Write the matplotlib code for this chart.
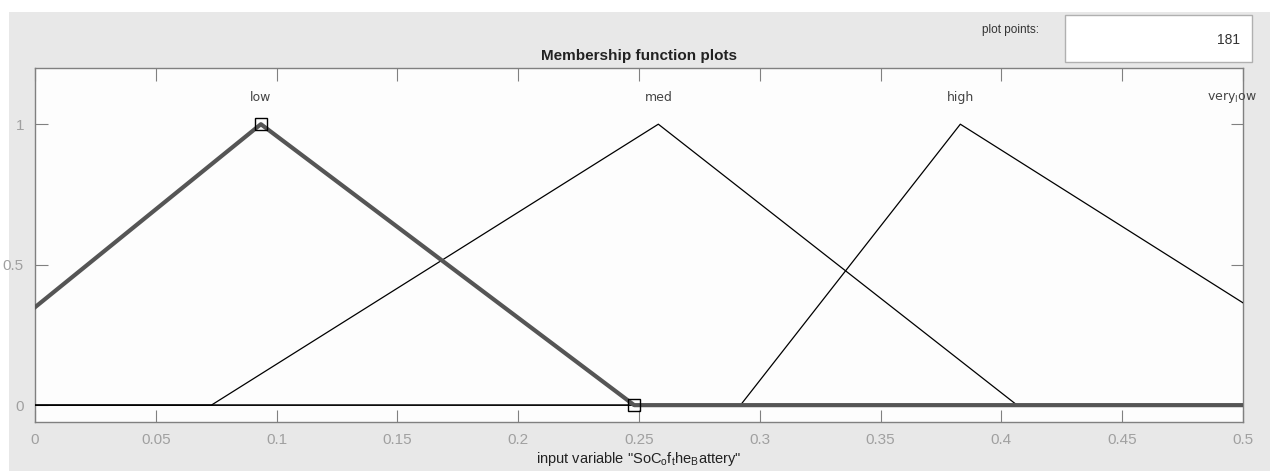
import matplotlib.pyplot as plt
from matplotlib.patches import Rectangle

# membership functions (trimf parameters a, b, c)
mf_names = ['low', 'med', 'high', 'very_low']
low_params = [-0.05, 0.0935, 0.248]
med_params = [0.073, 0.258, 0.4065]
high_params = [0.292, 0.383, 0.567]
very_low_params = [0.5, 0.6, 0.7]
label_x = [0.0935, 0.258, 0.383, 0.4955]

x_ticks = [0, 0.05, 0.1, 0.15, 0.2, 0.25, 0.3, 0.35, 0.4, 0.45, 0.5]
x_tick_labels = ['0', '0.05', '0.1', '0.15', '0.2', '0.25', '0.3', '0.35', '0.4', '0.45', '0.5']
y_ticks = [0, 0.5, 1]
y_tick_labels = ['0', '0.5', '1']
plot_points = 181

plt.rcParams['font.family'] = ['Liberation Sans', 'DejaVu Sans']

fig = plt.figure(figsize=(12.70, 4.71), dpi=100)
fig.patch.set_facecolor('white')
# gray panel behind the axes
fig.patches.append(Rectangle((9/1270, 0), 1 - 9/1270, 1 - 12/471, transform=fig.transFigure,
                             facecolor='#e8e8e8', edgecolor='none', zorder=-5))

ax = fig.add_axes([35/1270, 1 - 422/471, 1208/1270, 354/471])
ax.set_facecolor('#fdfdfd')
ax.set_xlim(0, 0.5)
ax.set_ylim(-0.06, 1.2)


def tri(p):
    a, b, c = p
    return [min(a, 0) - 1, a, b, c, 1.5], [0, 0, 1, 0, 0]


for name, p in zip(mf_names[1:], [med_params, high_params, very_low_params]):
    xs, ys = tri(p)
    ax.plot(xs, ys, color='black', lw=0.9, zorder=3)

# selected function drawn thick
xs, ys = tri(low_params)
ax.plot(xs, ys, color='#555555', lw=3, zorder=4, solid_capstyle='butt')
ax.plot([low_params[1], low_params[2]], [1, 0], ls='none', marker='s', ms=9,
        mfc='none', mec='black', mew=1, zorder=5, clip_on=False)

for name, lx in zip(mf_names, label_x):
    t = name
    if name == 'very_low':
        t = 'very$_{\\mathregular{l}}$ow'
    ax.text(lx, 1.095, t, ha='center', va='center', fontsize=9, color='#444444',
            family=['DejaVu Sans'], clip_on=False)

ax.set_xticks(x_ticks)
ax.set_xticklabels(x_tick_labels)
ax.set_yticks(y_ticks)
ax.set_yticklabels(y_tick_labels)
ax.tick_params(direction='in', length=9, width=0.8, color='#808080', labelcolor='#a0a0a0',
               labelsize=11, top=True, right=True, pad=8)
for s in ax.spines.values():
    s.set_color('#808080')
    s.set_linewidth(1)

ax.set_xlabel('input variable "SoC$_{\\mathregular{o}}$f$_{\\mathregular{t}}$he$_{\\mathregular{B}}$attery"',
              fontsize=10.5, color='#222222', labelpad=2)
ax.set_title('Membership function plots', fontsize=11, fontweight='bold', color='#222222', pad=6)

fig.text(1010/1270, 1 - 30/471, 'plot points:', fontsize=8.5, color='#333333', ha='center', va='center')
fig.patches.append(Rectangle((1065/1270, 1 - 62/471), 187/1270, 47/471, transform=fig.transFigure,
                             facecolor='white', edgecolor='#b0b0b0', lw=1, zorder=1))
fig.text(1240/1270, 1 - 40/471, str(plot_points), fontsize=10, color='#333333', ha='right', va='center')

fig.savefig('out.png', dpi=100)
